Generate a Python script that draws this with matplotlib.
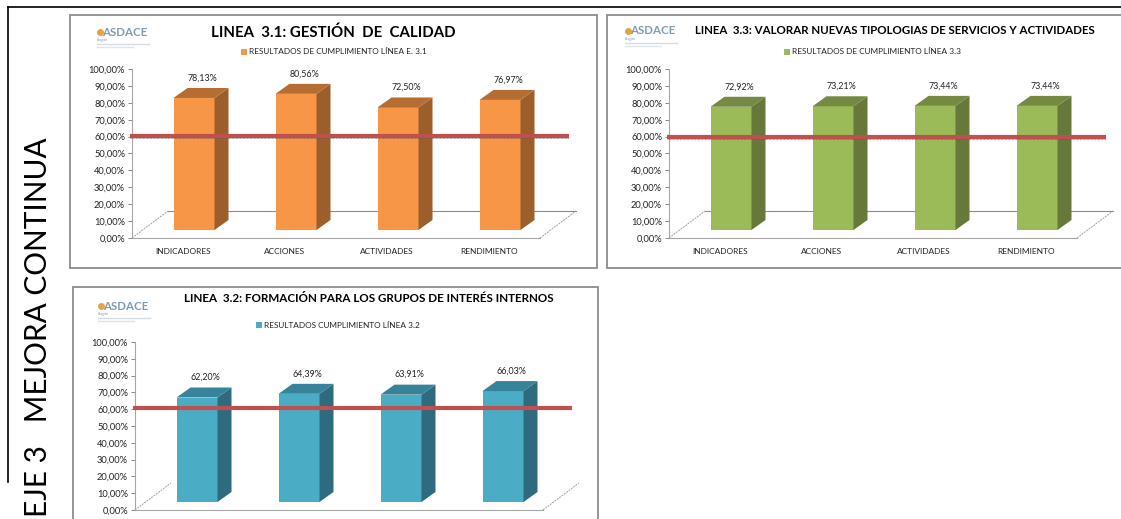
import numpy as np
import matplotlib
matplotlib.use('Agg')
import matplotlib.pyplot as plt
from matplotlib.patches import Rectangle

W, H = 1121, 519

categories = ['INDICADORES', 'ACCIONES', 'ACTIVIDADES', 'RENDIMIENTO']
yticks = [0, 10, 20, 30, 40, 50, 60, 70, 80, 90, 100]

vals_31 = [78.13, 80.56, 72.50, 76.97]
vals_33 = [72.92, 73.21, 73.44, 73.44]
vals_32 = [62.20, 64.39, 63.91, 66.03]

limit_31 = 60.3
limit_33 = 59.6
limit_32 = 60.8

plt.rcParams['font.family'] = ['Lato', 'DejaVu Sans']

fig = plt.figure(figsize=(W / 100, H / 100), dpi=100)
fig.patch.set_facecolor('white')

# full figure overlay in pixel coords (y down), for frames and loose text
bg = fig.add_axes([0, 0, 1, 1])
bg.set_xlim(0, W)
bg.set_ylim(H, 0)
bg.axis('off')


def px_axes(left, right, top, bottom):
    return fig.add_axes([left / W, 1 - bottom / H, (right - left) / W, (bottom - top) / H])


def draw_logo(x, y):
    bg.plot([x + 3], [y], 'o', color='#e8a33c', ms=4)
    bg.text(x + 5, y, 'ASDACE', fontsize=8.3, color='#7d9bb2', va='center', ha='left', weight='bold')
    bg.text(x, y + 8, 'Aragón', fontsize=2.5, color='#8899aa', va='center')
    bg.plot([x, x + 52], [y + 12, y + 12], color='#d2dce4', lw=1)
    bg.plot([x, x + 36], [y + 15, y + 15], color='#dde4ea', lw=1)


def panel(frame, axes_box, values, limit, colors, title, title_xy, title_size,
          legend, legend_xy, logo_xy, show_cats=True, back_line=True):
    # frame, axes_box are pixels: (left, right, top, bottom)
    bg.add_patch(Rectangle((frame[0], frame[2]), frame[1] - frame[0], frame[3] - frame[2],
                           fc='white', ec='#8c8c8c', lw=1.3))
    draw_logo(*logo_xy)
    bg.text(title_xy[0], title_xy[1], title, fontsize=title_size, weight='bold',
            ha='center', va='center', color='black')
    bg.add_patch(Rectangle((legend_xy[0], legend_xy[1] - 3), 6, 6, fc=colors[0], ec='none'))
    bg.text(legend_xy[0] + 8, legend_xy[1], legend, fontsize=5.97, ha='left', va='center', color='#222222')

    ax = px_axes(*axes_box)
    ax.patch.set_alpha(0)
    ax.set_xlim(-0.5, 3.5)
    ax.set_ylim(0, 100)
    x_px = (axes_box[1] - axes_box[0]) / 4
    y_px = (axes_box[3] - axes_box[2]) / 100

    # 3D depth in data units
    dx = 14 / x_px
    dy = 10 / y_px
    base = 8 / y_px
    shift = 11 / x_px
    width = 41 / x_px
    floor_dx = 36 / x_px
    floor_dy = 27 / y_px

    x = np.arange(len(values))
    xl = x + shift - width / 2
    xr = x + shift + width / 2
    v = np.array(values)

    # floor
    ax.plot([-0.5, -0.5 + floor_dx], [0, floor_dy], color='#a0a0a0', lw=0.7, ls=(0, (2, 1)), clip_on=False)
    ax.plot([3.5, 3.5 + floor_dx], [0, floor_dy], color='#a0a0a0', lw=0.7, ls=(0, (2, 1)), clip_on=False)
    if back_line:
        ax.plot([-0.5 + floor_dx, 3.5 + floor_dx], [floor_dy, floor_dy], color='#8c8c8c', lw=0.8, clip_on=False)

    ax.bar(x + shift, v, width=width, bottom=base, color=colors[0], zorder=3)
    for i in range(len(v)):
        ax.fill([xr[i], xr[i] + dx, xr[i] + dx, xr[i]],
                [base, base + dy, base + v[i] + dy, base + v[i]],
                color=colors[1], lw=0, zorder=3, clip_on=False)
        ax.fill([xl[i], xr[i], xr[i] + dx, xl[i] + dx],
                [base + v[i], base + v[i], base + v[i] + dy, base + v[i] + dy],
                color=colors[2], lw=0, zorder=3, clip_on=False)
        ax.text(x[i] + shift + dx / 2 + 1 / x_px, base + v[i] + dy + 10 / y_px,
                f'{v[i]:.2f}%'.replace('.', ','), fontsize=6.4, ha='center', va='center', color='#222222')

    # limit line plus thin dotted trace right under it
    ax.plot([-0.52, 3.5 + 29 / x_px], [limit, limit], color='#c0504d', lw=3, zorder=5,
            clip_on=False, solid_capstyle='butt')
    ax.plot([-0.52, 3.5 + 29 / x_px], [limit - 1.6 / y_px] * 2, color='#555555', lw=0.5,
            ls=(0, (1, 1)), zorder=4, clip_on=False)

    for s in ['top', 'right']:
        ax.spines[s].set_visible(False)
    ax.spines['left'].set_color('#a6a6a6')
    ax.spines['bottom'].set_color('#a6a6a6')
    ax.spines['left'].set_linewidth(0.8)
    ax.spines['bottom'].set_linewidth(0.8)
    ax.set_yticks(yticks)
    ax.set_yticklabels([f'{t},00%' for t in yticks], fontsize=6.7, color='#222222')
    ax.tick_params(axis='y', length=3, width=0.7, color='#888888', pad=2)
    ax.set_xticks(x)
    if show_cats:
        ax.set_xticklabels(categories, fontsize=6.05, color='#222222')
        ax.tick_params(axis='x', length=0, pad=7)
    else:
        ax.set_xticklabels([])
        ax.tick_params(axis='x', length=0)
    return ax


orange = ('#f79646', '#9c5f2b', '#b66d31')
green = ('#9bbb59', '#66793b', '#748a42')
blue = ('#4bacc6', '#2f6b7e', '#37839a')

panel((70, 597, 15, 268), (132, 540, 69, 238), vals_31, limit_31, orange,
      'LINEA  3.1: GESTIÓN  DE  CALIDAD', (333, 33), 10.8,
      'RESULTADOS DE CUMPLIMIENTO LÍNEA E. 3.1', (241, 52), (97, 32))
panel((607, 1123, 15, 268), (669, 1077, 69, 238), vals_33, limit_33, green,
      'LINEA  3.3: VALORAR NUEVAS TIPOLOGIAS DE SERVICIOS Y ACTIVIDADES', (895, 31), 8.28,
      'RESULTADOS DE CUMPLIMIENTO LÍNEA 3.3', (784, 52), (625, 31))
panel((73, 598, 287, 530), (135, 543, 342, 510), vals_32, limit_32, blue,
      'LINEA  3.2: FORMACIÓN PARA LOS GRUPOS DE INTERÉS INTERNOS', (369, 299), 8.4,
      'RESULTADOS CUMPLIMIENTO LÍNEA 3.2', (256, 325), (98, 306),
      show_cats=False, back_line=False)

# L shaped black rule and the vertical heading on the left
bg.plot([8, 8], [7, 482], color='black', lw=1.2)
bg.plot([8, W], [7, 7], color='black', lw=1.2)
bg.text(38, 517, 'EJE 3   MEJORA CONTINUA', rotation=90, fontsize=21.4, ha='center', va='bottom',
        color='black', family=['Lato', 'DejaVu Sans'])

fig.savefig('out.png', dpi=100)
